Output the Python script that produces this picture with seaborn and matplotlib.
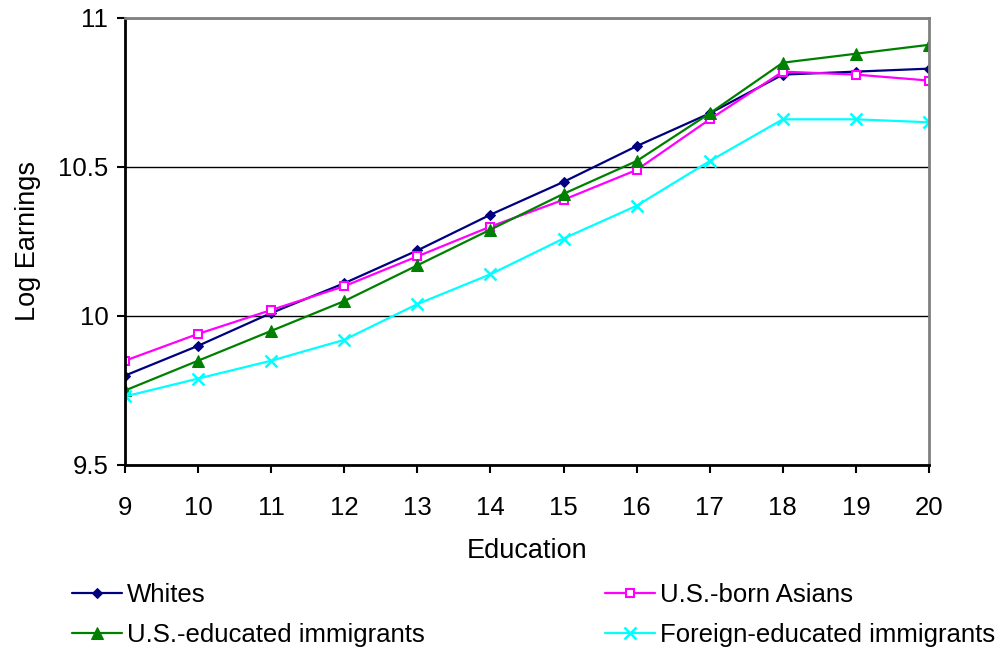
import matplotlib
matplotlib.use("Agg")
import matplotlib.pyplot as plt
import seaborn as sns
import numpy as np
import pandas as pd

# --- datos ---
education = [9, 10, 11, 12, 13, 14, 15, 16, 17, 18, 19, 20]
whites = [9.80, 9.90, 10.01, 10.11, 10.22, 10.34, 10.45, 10.57, 10.68, 10.81, 10.82, 10.83]
us_born_asians = [9.85, 9.94, 10.02, 10.10, 10.20, 10.30, 10.39, 10.49, 10.66, 10.82, 10.81, 10.79]
us_educated_imm = [9.75, 9.85, 9.95, 10.05, 10.17, 10.29, 10.41, 10.52, 10.68, 10.85, 10.88, 10.91]
foreign_educated_imm = [9.73, 9.79, 9.85, 9.92, 10.04, 10.14, 10.26, 10.37, 10.52, 10.66, 10.66, 10.65]

series_names = ["Whites", "U.S.-born Asians", "U.S.-educated immigrants", "Foreign-educated immigrants"]
series_values = [whites, us_born_asians, us_educated_imm, foreign_educated_imm]
y_ticks = [9.5, 10, 10.5, 11]
x_ticks = education

df = pd.DataFrame({"Education": education * 4,
                   "Log Earnings": np.concatenate(series_values),
                   "Grupo": np.repeat(series_names, len(education))})

estilos = {
    "Whites": dict(color="#000080", marker="D", markersize=5.5,
                   markerfacecolor="#000080", markeredgecolor="#000080"),
    "U.S.-born Asians": dict(color="#FF00FF", marker="s", markersize=6, markerfacecolor="white",
                             markeredgecolor="#FF00FF", markeredgewidth=1.5),
    "U.S.-educated immigrants": dict(color="#008000", marker="^", markersize=8,
                                     markerfacecolor="#008000", markeredgecolor="#008000"),
    "Foreign-educated immigrants": dict(color="#00FFFF", marker="x", markersize=8,
                                        markeredgecolor="#00FFFF", markeredgewidth=1.8),
}

sns.set_style("white")
plt.rcParams["font.family"] = ["Liberation Sans", "DejaVu Sans"]
plt.rcParams["text.color"] = "black"
plt.rcParams["axes.labelcolor"] = "black"
plt.rcParams["xtick.color"] = "black"
plt.rcParams["ytick.color"] = "black"

fig = plt.figure(figsize=(9.97, 6.54), dpi=100)
ax = fig.add_axes([0.1254, 0.289, 0.8064, 0.6835])

for nombre in series_names:
    sub = df[df["Grupo"] == nombre]
    sns.lineplot(data=sub, x="Education", y="Log Earnings", ax=ax, label=nombre,
                 linewidth=1.6, legend=False, **estilos[nombre])

ax.set_xlim(9, 20)
ax.set_ylim(9.5, 11)
ax.set_xticks(x_ticks)
ax.set_yticks(y_ticks)
ax.set_yticklabels(["9.5", "10", "10.5", "11"])
ax.yaxis.grid(True, color="black", linewidth=1)
ax.xaxis.grid(False)
ax.tick_params(axis="both", direction="out", length=6, width=1.5, labelsize=18.5,
               color="black", labelcolor="black", bottom=True, left=True)
ax.tick_params(axis="x", pad=16)
ax.tick_params(axis="y", pad=6)

for lado in ["left", "bottom"]:
    ax.spines[lado].set_color("black")
    ax.spines[lado].set_linewidth(2)
for lado in ["top", "right"]:
    ax.spines[lado].set_color("#808080")
    ax.spines[lado].set_linewidth(2)

ax.set_xlabel("Education", fontsize=19.5, labelpad=13, color="black")
ax.set_ylabel("Log Earnings", fontsize=19.5, labelpad=12, color="black")

handles, labels = ax.get_legend_handles_labels()
orden = [0, 2, 1, 3]
leg = fig.legend([handles[i] for i in orden], [labels[i] for i in orden],
                 loc="upper left", bbox_to_anchor=(0.072, 0.108), ncol=2, frameon=False,
                 fontsize=18.5, handlelength=1.95, handletextpad=0.2, columnspacing=7.0,
                 labelspacing=0.62, borderaxespad=0, borderpad=0)
for t in leg.get_texts():
    t.set_color("black")

fig.savefig("out.png", dpi=100)
